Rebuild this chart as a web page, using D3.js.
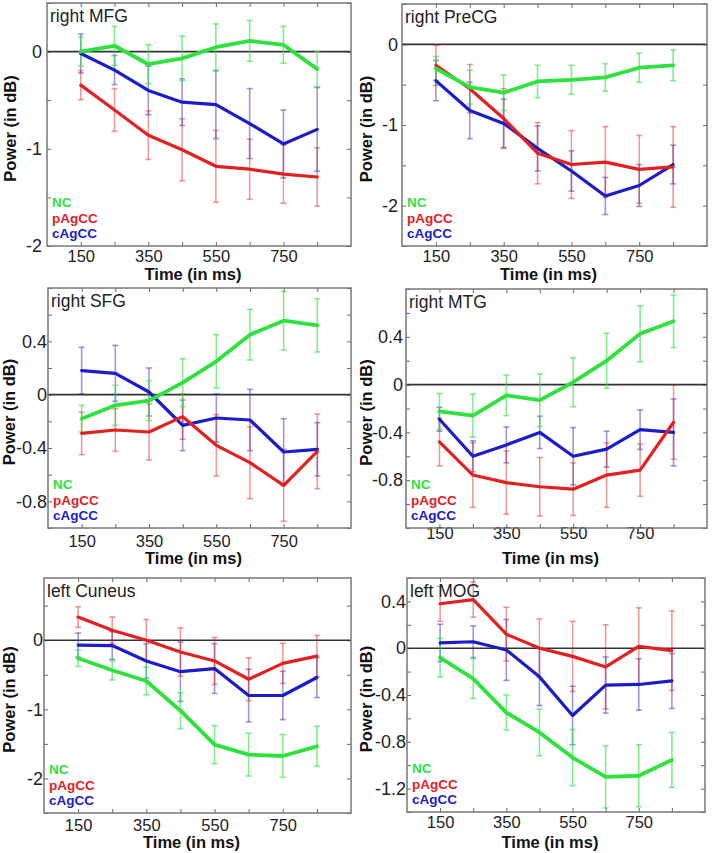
<!DOCTYPE html>
<html><head><meta charset="utf-8">
<script src="https://cdn.jsdelivr.net/npm/d3@7"></script>
<style>
html,body{margin:0;padding:0;background:#fff;}
svg{display:block;font-family:"Liberation Sans",Arial,sans-serif;}
</style></head>
<body>
<svg id="chart" width="713" height="853"></svg>
<script>
// ---------- DATA ----------
const times = [150, 250, 350, 450, 550, 650, 750, 850];
const xTickLabels = [150, 350, 550, 750];
const seriesNames = ["NC", "pAgCC", "cAgCC"];
const panelTitles = ["right MFG", "right PreCG", "right SFG", "right MTG", "left Cuneus", "left MOG"];

// right MFG
const mfgNC = [0, 0.06, -0.13, -0.07, 0.045, 0.11, 0.07, -0.18];
const mfgNCerr = [0.15, 0.2, 0.2, 0.23, 0.24, 0.21, 0.19, 0.18];
const mfgP = [-0.345, -0.6, -0.86, -1.01, -1.18, -1.21, -1.26, -1.29];
const mfgPerr = [0.15, 0.22, 0.25, 0.32, 0.37, 0.31, 0.3, 0.3];
const mfgC = [-0.02, -0.19, -0.4, -0.52, -0.545, -0.74, -0.95, -0.8];
const mfgCerr = [0.2, 0.15, 0.25, 0.24, 0.35, 0.36, 0.35, 0.43];
const mfgYTickLabels = [-2, -1, 0];

// right PreCG
const precgNC = [-0.3, -0.53, -0.6, -0.46, -0.44, -0.41, -0.29, -0.26];
const precgNCerr = [0.15, 0.21, 0.22, 0.2, 0.18, 0.17, 0.18, 0.19];
const precgP = [-0.26, -0.55, -0.92, -1.35, -1.49, -1.46, -1.55, -1.52];
const precgPerr = [0.25, 0.3, 0.37, 0.38, 0.42, 0.44, 0.42, 0.5];
const precgC = [-0.45, -0.82, -0.98, -1.29, -1.57, -1.88, -1.75, -1.49];
const precgCerr = [0.25, 0.35, 0.3, 0.28, 0.25, 0.23, 0.26, 0.24];
const precgYTickLabels = [-2, -1, 0];

// right SFG
const sfgNC = [-0.18, -0.08, -0.045, 0.09, 0.25, 0.45, 0.555, 0.52];
const sfgNCerr = [0.1, 0.15, 0.15, 0.18, 0.2, 0.19, 0.22, 0.2];
const sfgP = [-0.29, -0.265, -0.28, -0.165, -0.38, -0.51, -0.68, -0.425];
const sfgPerr = [0.16, 0.16, 0.21, 0.17, 0.23, 0.27, 0.27, 0.28];
const sfgC = [0.18, 0.16, 0.02, -0.23, -0.175, -0.19, -0.43, -0.41];
const sfgCerr = [0.175, 0.21, 0.18, 0.19, 0.18, 0.23, 0.25, 0.2];
const sfgYTickLabels = [-0.8, -0.4, 0, 0.4];

// right MTG
const mtgNC = [-0.225, -0.26, -0.09, -0.13, 0.02, 0.2, 0.425, 0.53];
const mtgNCerr = [0.15, 0.18, 0.17, 0.22, 0.205, 0.23, 0.235, 0.22];
const mtgP = [-0.48, -0.757, -0.82, -0.855, -0.875, -0.757, -0.715, -0.315];
const mtgPerr = [0.2, 0.27, 0.265, 0.245, 0.22, 0.27, 0.22, 0.31];
const mtgC = [-0.29, -0.6, -0.505, -0.4, -0.6, -0.54, -0.377, -0.4];
const mtgCerr = [0.1, 0.13, 0.15, 0.135, 0.24, 0.15, 0.165, 0.28];
const mtgYTickLabels = [-0.8, -0.4, 0, 0.4];

// left Cuneus
const cunNC = [-0.26, -0.435, -0.59, -1.02, -1.51, -1.655, -1.675, -1.535];
const cunNCerr = [0.12, 0.14, 0.2, 0.26, 0.275, 0.31, 0.31, 0.29];
const cunP = [0.335, 0.145, 0, -0.17, -0.3, -0.565, -0.335, -0.23];
const cunPerr = [0.15, 0.19, 0.3, 0.35, 0.34, 0.31, 0.29, 0.3];
const cunC = [-0.07, -0.077, -0.3, -0.455, -0.41, -0.8, -0.8, -0.54];
const cunCerr = [0.175, 0.2, 0.25, 0.43, 0.36, 0.38, 0.35, 0.29];
const cunYTickLabels = [-2, -1, 0];

// left MOG
const mogNC = [-0.08, -0.26, -0.55, -0.72, -0.935, -1.1, -1.09, -0.955];
const mogNCerr = [0.165, 0.17, 0.15, 0.2, 0.24, 0.265, 0.265, 0.235];
const mogP = [0.38, 0.415, 0.12, 0, -0.07, -0.16, 0.015, -0.02];
const mogPerr = [0.15, 0.15, 0.23, 0.25, 0.3, 0.36, 0.33, 0.34];
const mogC = [0.045, 0.055, -0.015, -0.245, -0.575, -0.315, -0.31, -0.28];
const mogCerr = [0.16, 0.135, 0.26, 0.245, 0.25, 0.24, 0.22, 0.235];
const mogYTickLabels = [-1.2, -0.8, -0.4, 0, 0.4];

// ---------- STYLE / LAYOUT ----------
const colors = {NC: "#2ee23e", pAgCC: "#e3201f", cAgCC: "#1c1cc8"};
const errColors = {NC: "rgba(46,226,62,0.6)", pAgCC: "rgba(227,32,31,0.45)", cAgCC: "rgba(28,28,200,0.45)"};

const panels = [
  {title: panelTitles[0], box: [47, 351, 3, 246], ydom: [-2, 0.5], ystep: 0.5, ylabels: mfgYTickLabels, ypad: 5, ylabX: 10,
   data: {NC: [mfgNC, mfgNCerr], pAgCC: [mfgP, mfgPerr], cAgCC: [mfgC, mfgCerr]}, xtickY: 256, xlabY: 274},
  {title: panelTitles[1], box: [402, 707, 4, 246], ydom: [-2.5, 0.5], ystep: 0.5, ylabels: precgYTickLabels, ypad: 4, ylabX: 366,
   data: {NC: [precgNC, precgNCerr], pAgCC: [precgP, precgPerr], cAgCC: [precgC, precgCerr]}, xtickY: 256, xlabY: 274},
  {title: panelTitles[2], box: [48, 351, 288, 528], ydom: [-1, 0.8], ystep: 0.2, ylabels: sfgYTickLabels, ypad: 1, ylabX: 9,
   data: {NC: [sfgNC, sfgNCerr], pAgCC: [sfgP, sfgPerr], cAgCC: [sfgC, sfgCerr]}, xtickY: 541, xlabY: 558},
  {title: panelTitles[3], box: [406, 707, 289, 528], ydom: [-1.2, 0.8], ystep: 0.2, ylabels: mtgYTickLabels, ypad: 3, ylabX: 366,
   data: {NC: [mtgNC, mtgNCerr], pAgCC: [mtgP, mtgPerr], cAgCC: [mtgC, mtgCerr]}, xtickY: 533, xlabY: 558},
  {title: panelTitles[4], box: [44, 351, 578, 813], ydom: [-2.5, 0.9], ystep: 0.5, ylabels: cunYTickLabels, ypad: 1, ylabX: 9,
   data: {NC: [cunNC, cunNCerr], pAgCC: [cunP, cunPerr], cAgCC: [cunC, cunCerr]}, xtickY: 825, xlabY: 842},
  {title: panelTitles[5], box: [407, 705, 578, 812], ydom: [-1.4, 0.6], ystep: 0.2, ylabels: mogYTickLabels, ypad: 1, ylabX: 366,
   data: {NC: [mogNC, mogNCerr], pAgCC: [mogP, mogPerr], cAgCC: [mogC, mogCerr]}, xtickY: 822, xlabY: 842}
];

const svg = d3.select("#chart");
const fmt = v => String(+v.toFixed(2));

function drawPanel(p) {
  const [x0, x1, y0, y1] = p.box;
  const x = d3.scaleLinear().domain([50, 950]).range([x0, x1]);
  const y = d3.scaleLinear().domain(p.ydom).range([y1, y0]);
  const g = svg.append("g");

  const yt = [];
  for (let v = Math.ceil(p.ydom[0] / p.ystep - 1e-9) * p.ystep; v <= p.ydom[1] + 1e-9; v += p.ystep) yt.push(+v.toFixed(3));
  const isLab = v => p.ylabels.some(l => Math.abs(l - v) < 1e-6);

  const axL = d3.axisLeft(y).tickValues(yt).tickSize(-4).tickPadding(p.ypad).tickFormat(v => isLab(v) ? fmt(v) : "");
  const axR = d3.axisRight(y).tickValues(yt).tickSize(-4).tickFormat("");
  const axB = d3.axisBottom(x).tickValues(times).tickSize(-4).tickPadding(0).tickFormat(v => xTickLabels.includes(v) ? String(v) : "");
  const axT = d3.axisTop(x).tickValues(times).tickSize(-4).tickFormat("");

  const gl = g.append("g").attr("transform", `translate(${x0},0)`).call(axL);
  const gr = g.append("g").attr("transform", `translate(${x1},0)`).call(axR);
  const gb = g.append("g").attr("transform", `translate(0,${y1})`).call(axB);
  const gt = g.append("g").attr("transform", `translate(0,${y0})`).call(axT);
  [gl, gr, gb, gt].forEach(a => {
    a.select(".domain").remove();
    a.selectAll(".tick line").attr("stroke", "#666").attr("stroke-width", 1);
  });
  gl.selectAll(".tick text").attr("font-size", 18).attr("fill", "#222").attr("font-family", "Liberation Sans, Arial, sans-serif");
  gb.selectAll(".tick text").attr("font-size", 16.5).attr("fill", "#222").attr("font-family", "Liberation Sans, Arial, sans-serif")
    .attr("y", p.xtickY - y1).attr("dy", "0.35em");

  g.append("line").attr("x1", x0).attr("x2", x1).attr("y1", y(0)).attr("y2", y(0))
    .attr("stroke", "#333").attr("stroke-width", 1.6);

  const order = ["cAgCC", "pAgCC", "NC"];
  order.forEach(k => {
    const [vals, errs] = p.data[k];
    const eg = g.append("g").attr("stroke", errColors[k]).attr("stroke-width", 1.6);
    times.forEach((t, i) => {
      const cx = x(t), top = y(vals[i] + errs[i]), bot = y(vals[i] - errs[i]);
      eg.append("line").attr("x1", cx).attr("x2", cx).attr("y1", top).attr("y2", bot);
      eg.append("line").attr("x1", cx - 3).attr("x2", cx + 3).attr("y1", top).attr("y2", top);
      eg.append("line").attr("x1", cx - 3).attr("x2", cx + 3).attr("y1", bot).attr("y2", bot);
    });
  });
  const line = d3.line().x((d, i) => x(times[i])).y(d => y(d));
  order.forEach(k => {
    g.append("path").datum(p.data[k][0]).attr("d", line).attr("fill", "none")
      .attr("stroke", colors[k]).attr("stroke-width", k === "NC" ? 3.8 : 3.2)
      .attr("stroke-linejoin", "round").attr("stroke-linecap", "round");
  });

  g.append("rect").attr("x", x0).attr("y", y0).attr("width", x1 - x0).attr("height", y1 - y0)
    .attr("fill", "none").attr("stroke", "#777").attr("stroke-width", 1.5);

  g.append("text").attr("x", x0 + 3).attr("y", y0 + 19).attr("font-size", 17.5).attr("fill", "#222").text(p.title);

  seriesNames.forEach((k, i) => {
    g.append("text").attr("x", x0 + 5).attr("y", y1 - 39 + i * 15.5).attr("font-size", 13.5)
      .attr("font-weight", "bold").attr("fill", colors[k]).text(k);
  });

  g.append("text").attr("x", (x0 + x1) / 2 - 6).attr("y", p.xlabY).attr("dy", "0.35em").attr("text-anchor", "middle")
    .attr("font-size", 16.5).attr("font-weight", "bold").attr("fill", "#111").text("Time (in ms)");
  const ycy = (y0 + y1) / 2 + 4;
  g.append("text").attr("transform", `translate(${p.ylabX},${ycy}) rotate(-90)`).attr("dy", "0.35em")
    .attr("text-anchor", "middle").attr("font-size", 16.5).attr("font-weight", "bold").attr("fill", "#111").text("Power (in dB)");
}

panels.forEach(drawPanel);
</script>
</body></html>
